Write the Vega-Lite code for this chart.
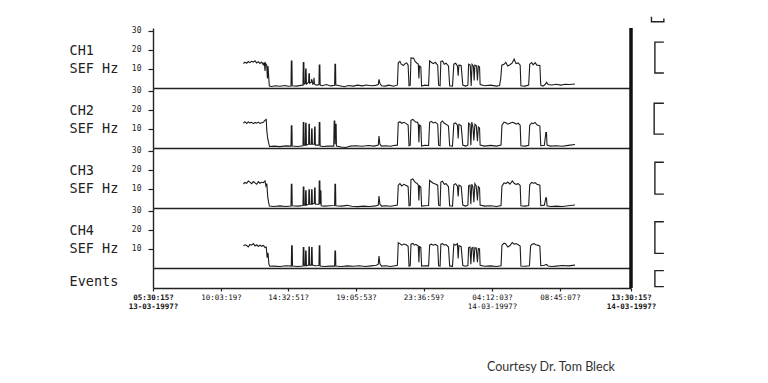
{
"$schema": "https://vega.github.io/schema/vega-lite/v6.json",
"background": "white",
"padding": {"left": 69, "top": 13, "right": 5, "bottom": 5},
"spacing": 0,
"bounds": "flush",
"title": {"text": "Courtesy Dr. Tom Bleck", "orient": "bottom", "anchor": "start", "frame": "bounds", "dx": 418, "offset": 51, "font": "Lato", "fontSize": 12.5, "fontWeight": "normal", "color": "#333"},
"config": {
  "view": {"stroke": null},
  "axis": {"grid": false, "domainColor": "#222", "tickColor": "#222", "labelColor": "#222", "titleColor": "#222", "labelFont": "DejaVu Sans Mono", "titleFont": "DejaVu Sans Mono", "domainWidth": 1.4, "tickWidth": 1.2},
  "axisY": {"tickSize": 5, "labelFontSize": 8, "labelPadding": 7, "labelOverlap": false, "labelBound": false, "titleAngle": 0, "titleAlign": "left", "titleBaseline": "alphabetic", "titleX": -84, "titleY": 26, "titleFontSize": 13.5, "titleFontWeight": "normal", "titleLineHeight": 18}
},
"datasets": {
"ch1": [
{"h":6.05,"v":12.8},{"h":6.15,"v":13.6},{"h":6.27,"v":13.0},{"h":6.38,"v":13.9},{"h":6.49,"v":13.3},{"h":6.6,"v":14.0},{"h":6.72,"v":13.6},{"h":6.83,"v":14.3},{"h":6.94,"v":13.1},{"h":7.05,"v":13.8},{"h":7.16,"v":12.9},{"h":7.27,"v":13.6},{"h":7.39,"v":12.2},{"h":7.45,"v":13.5},{"h":7.5,"v":9.0},{"h":7.53,"v":13.0},{"h":7.61,"v":12.0},{"h":7.66,"v":5.0},{"h":7.7,"v":11.5},{"h":7.76,"v":4.0},{"h":7.79,"v":1.0},{"h":7.94,"v":0.8},{"h":8.2,"v":1.2},{"h":8.5,"v":0.9},{"h":8.83,"v":1.3},{"h":9.05,"v":0.9},{"h":9.24,"v":1.0},{"h":9.26,"v":14.2},{"h":9.3,"v":14.2},{"h":9.32,"v":1.2},{"h":9.6,"v":1.0},{"h":9.9,"v":1.4},{"h":10.04,"v":1.5},{"h":10.06,"v":13.4},{"h":10.1,"v":13.4},{"h":10.12,"v":2.0},{"h":10.2,"v":2.5},{"h":10.22,"v":10.0},{"h":10.25,"v":10.0},{"h":10.27,"v":2.0},{"h":10.42,"v":3.0},{"h":10.44,"v":7.4},{"h":10.47,"v":7.4},{"h":10.49,"v":2.5},{"h":10.6,"v":3.0},{"h":10.62,"v":4.6},{"h":10.65,"v":4.0},{"h":10.7,"v":2.0},{"h":10.76,"v":2.5},{"h":10.78,"v":5.4},{"h":10.81,"v":2.0},{"h":10.95,"v":1.5},{"h":11.11,"v":1.8},{"h":11.13,"v":12.0},{"h":11.17,"v":12.0},{"h":11.19,"v":1.5},{"h":11.33,"v":1.2},{"h":11.6,"v":1.8},{"h":11.9,"v":1.1},{"h":12.16,"v":1.4},{"h":12.18,"v":12.4},{"h":12.22,"v":12.4},{"h":12.24,"v":1.5},{"h":12.5,"v":1.2},{"h":12.8,"v":0.7},{"h":13.1,"v":1.3},{"h":13.4,"v":1.0},{"h":13.7,"v":1.5},{"h":14.0,"v":1.1},{"h":14.3,"v":1.6},{"h":14.6,"v":1.2},{"h":14.9,"v":1.4},{"h":15.08,"v":1.8},{"h":15.13,"v":4.5},{"h":15.19,"v":2.5},{"h":15.3,"v":1.2},{"h":15.53,"v":1.0},{"h":15.8,"v":1.5},{"h":16.1,"v":0.9},{"h":16.36,"v":1.6},{"h":16.42,"v":13.2},{"h":16.53,"v":14.0},{"h":16.62,"v":12.5},{"h":16.76,"v":11.8},{"h":16.88,"v":12.8},{"h":16.98,"v":13.2},{"h":17.08,"v":12.0},{"h":17.14,"v":1.2},{"h":17.22,"v":1.5},{"h":17.27,"v":15.8},{"h":17.45,"v":15.6},{"h":17.56,"v":13.8},{"h":17.68,"v":13.0},{"h":17.76,"v":12.5},{"h":17.8,"v":5.0},{"h":17.84,"v":11.5},{"h":17.93,"v":11.0},{"h":17.98,"v":1.0},{"h":18.2,"v":1.5},{"h":18.45,"v":1.3},{"h":18.52,"v":14.2},{"h":18.63,"v":13.5},{"h":18.76,"v":12.8},{"h":18.9,"v":13.5},{"h":19.06,"v":12.0},{"h":19.12,"v":1.5},{"h":19.22,"v":1.2},{"h":19.27,"v":14.0},{"h":19.38,"v":14.2},{"h":19.5,"v":12.5},{"h":19.62,"v":13.0},{"h":19.78,"v":11.6},{"h":19.86,"v":1.2},{"h":20.05,"v":1.0},{"h":20.14,"v":12.5},{"h":20.26,"v":13.0},{"h":20.38,"v":11.6},{"h":20.43,"v":6.5},{"h":20.48,"v":12.0},{"h":20.63,"v":11.8},{"h":20.74,"v":1.5},{"h":20.93,"v":1.0},{"h":21.08,"v":1.5},{"h":21.13,"v":12.5},{"h":21.24,"v":12.0},{"h":21.3,"v":1.0},{"h":21.36,"v":12.4},{"h":21.45,"v":11.5},{"h":21.5,"v":4.0},{"h":21.55,"v":12.0},{"h":21.66,"v":11.6},{"h":21.72,"v":4.0},{"h":21.78,"v":11.6},{"h":21.86,"v":11.0},{"h":21.9,"v":1.8},{"h":22.2,"v":1.2},{"h":22.6,"v":1.5},{"h":23.0,"v":1.0},{"h":23.2,"v":1.3},{"h":23.28,"v":5.0},{"h":23.35,"v":12.0},{"h":23.5,"v":12.4},{"h":23.62,"v":13.4},{"h":23.75,"v":11.6},{"h":23.9,"v":12.2},{"h":24.05,"v":13.2},{"h":24.18,"v":15.2},{"h":24.3,"v":12.8},{"h":24.45,"v":13.2},{"h":24.58,"v":12.0},{"h":24.63,"v":1.2},{"h":24.9,"v":1.0},{"h":25.15,"v":1.5},{"h":25.22,"v":12.5},{"h":25.35,"v":13.4},{"h":25.45,"v":12.2},{"h":25.58,"v":13.3},{"h":25.7,"v":12.0},{"h":25.9,"v":11.8},{"h":25.96,"v":1.5},{"h":26.1,"v":1.0},{"h":26.25,"v":1.8},{"h":26.35,"v":3.0},{"h":26.45,"v":1.8},{"h":26.7,"v":1.6},{"h":27.0,"v":2.0},{"h":27.3,"v":1.5},{"h":27.6,"v":2.0},{"h":27.9,"v":1.8},{"h":28.25,"v":2.1}
],
"ch2": [
{"h":6.05,"v":13.0},{"h":6.15,"v":13.8},{"h":6.27,"v":12.9},{"h":6.38,"v":13.7},{"h":6.49,"v":13.2},{"h":6.6,"v":13.5},{"h":6.72,"v":12.8},{"h":6.83,"v":13.4},{"h":6.94,"v":13.0},{"h":7.05,"v":13.6},{"h":7.16,"v":12.9},{"h":7.27,"v":13.3},{"h":7.39,"v":13.5},{"h":7.5,"v":14.6},{"h":7.58,"v":15.0},{"h":7.62,"v":9.0},{"h":7.68,"v":5.0},{"h":7.76,"v":2.0},{"h":7.8,"v":0.8},{"h":8.1,"v":1.0},{"h":8.5,"v":0.7},{"h":8.9,"v":1.1},{"h":9.24,"v":1.0},{"h":9.26,"v":11.6},{"h":9.3,"v":11.6},{"h":9.32,"v":1.0},{"h":9.7,"v":0.8},{"h":10.04,"v":1.2},{"h":10.06,"v":13.4},{"h":10.1,"v":13.4},{"h":10.12,"v":1.5},{"h":10.2,"v":1.5},{"h":10.22,"v":13.0},{"h":10.25,"v":13.0},{"h":10.27,"v":1.5},{"h":10.42,"v":2.0},{"h":10.44,"v":12.5},{"h":10.47,"v":12.5},{"h":10.49,"v":2.0},{"h":10.6,"v":2.0},{"h":10.62,"v":10.0},{"h":10.65,"v":10.0},{"h":10.67,"v":2.0},{"h":10.8,"v":2.0},{"h":10.82,"v":11.0},{"h":10.85,"v":11.0},{"h":10.87,"v":1.5},{"h":11.11,"v":1.5},{"h":11.13,"v":13.3},{"h":11.17,"v":13.3},{"h":11.19,"v":1.0},{"h":11.4,"v":0.8},{"h":11.7,"v":1.0},{"h":12.1,"v":1.0},{"h":12.13,"v":14.2},{"h":12.17,"v":14.2},{"h":12.19,"v":2.0},{"h":12.22,"v":12.5},{"h":12.26,"v":12.5},{"h":12.28,"v":1.0},{"h":12.6,"v":0.5},{"h":12.9,"v":0.3},{"h":13.2,"v":1.0},{"h":13.6,"v":1.2},{"h":14.0,"v":0.9},{"h":14.4,"v":1.3},{"h":14.8,"v":1.0},{"h":15.08,"v":1.5},{"h":15.13,"v":6.3},{"h":15.19,"v":2.0},{"h":15.3,"v":1.0},{"h":15.6,"v":1.2},{"h":15.9,"v":0.9},{"h":16.2,"v":1.4},{"h":16.36,"v":1.5},{"h":16.42,"v":13.3},{"h":16.53,"v":13.8},{"h":16.65,"v":13.0},{"h":16.8,"v":13.5},{"h":16.95,"v":12.8},{"h":17.08,"v":12.0},{"h":17.14,"v":1.2},{"h":17.22,"v":1.5},{"h":17.27,"v":14.5},{"h":17.4,"v":15.0},{"h":17.5,"v":14.2},{"h":17.6,"v":13.5},{"h":17.7,"v":13.6},{"h":17.76,"v":12.5},{"h":17.8,"v":3.0},{"h":17.84,"v":12.0},{"h":17.93,"v":11.5},{"h":17.98,"v":1.0},{"h":18.2,"v":1.4},{"h":18.45,"v":1.3},{"h":18.52,"v":13.5},{"h":18.63,"v":14.0},{"h":18.76,"v":13.2},{"h":18.9,"v":13.5},{"h":19.06,"v":12.5},{"h":19.12,"v":1.5},{"h":19.22,"v":1.2},{"h":19.27,"v":13.4},{"h":19.38,"v":14.2},{"h":19.5,"v":13.0},{"h":19.62,"v":12.5},{"h":19.78,"v":11.5},{"h":19.86,"v":1.2},{"h":20.05,"v":1.0},{"h":20.14,"v":12.8},{"h":20.26,"v":13.2},{"h":20.38,"v":12.0},{"h":20.43,"v":5.0},{"h":20.48,"v":12.4},{"h":20.63,"v":11.8},{"h":20.74,"v":1.5},{"h":20.93,"v":1.0},{"h":21.08,"v":1.5},{"h":21.13,"v":13.0},{"h":21.22,"v":12.4},{"h":21.28,"v":1.5},{"h":21.34,"v":13.6},{"h":21.42,"v":11.0},{"h":21.48,"v":4.0},{"h":21.55,"v":12.5},{"h":21.64,"v":11.8},{"h":21.72,"v":3.5},{"h":21.78,"v":11.0},{"h":21.86,"v":10.5},{"h":21.9,"v":1.6},{"h":22.2,"v":1.0},{"h":22.6,"v":1.4},{"h":23.0,"v":1.0},{"h":23.3,"v":1.5},{"h":23.36,"v":12.0},{"h":23.5,"v":13.6},{"h":23.62,"v":13.2},{"h":23.75,"v":12.5},{"h":23.9,"v":13.0},{"h":24.05,"v":13.5},{"h":24.18,"v":13.2},{"h":24.3,"v":12.5},{"h":24.45,"v":13.0},{"h":24.58,"v":12.0},{"h":24.63,"v":1.2},{"h":24.9,"v":1.0},{"h":25.15,"v":1.4},{"h":25.22,"v":12.0},{"h":25.35,"v":13.2},{"h":25.45,"v":12.8},{"h":25.58,"v":13.4},{"h":25.7,"v":12.2},{"h":25.9,"v":11.5},{"h":25.96,"v":1.2},{"h":26.2,"v":1.4},{"h":26.3,"v":8.1},{"h":26.34,"v":8.1},{"h":26.38,"v":1.5},{"h":26.6,"v":1.0},{"h":27.0,"v":1.2},{"h":27.4,"v":0.9},{"h":27.8,"v":1.4},{"h":28.25,"v":1.8}
],
"ch3": [
{"h":6.05,"v":12.5},{"h":6.15,"v":13.4},{"h":6.27,"v":13.0},{"h":6.38,"v":14.2},{"h":6.49,"v":13.6},{"h":6.6,"v":12.8},{"h":6.72,"v":13.9},{"h":6.83,"v":13.2},{"h":6.94,"v":12.5},{"h":7.05,"v":13.8},{"h":7.16,"v":13.0},{"h":7.27,"v":13.5},{"h":7.39,"v":13.3},{"h":7.5,"v":14.2},{"h":7.56,"v":11.6},{"h":7.62,"v":12.8},{"h":7.68,"v":6.0},{"h":7.74,"v":3.0},{"h":7.79,"v":1.0},{"h":8.1,"v":0.8},{"h":8.5,"v":1.1},{"h":8.9,"v":0.8},{"h":9.24,"v":1.0},{"h":9.26,"v":12.5},{"h":9.3,"v":12.5},{"h":9.32,"v":1.2},{"h":9.7,"v":1.0},{"h":10.04,"v":1.3},{"h":10.06,"v":11.0},{"h":10.1,"v":11.0},{"h":10.12,"v":1.5},{"h":10.2,"v":1.5},{"h":10.22,"v":9.0},{"h":10.25,"v":9.0},{"h":10.27,"v":1.5},{"h":10.42,"v":2.0},{"h":10.44,"v":9.5},{"h":10.47,"v":9.5},{"h":10.49,"v":2.0},{"h":10.6,"v":2.0},{"h":10.62,"v":9.5},{"h":10.65,"v":9.5},{"h":10.67,"v":2.0},{"h":10.8,"v":2.5},{"h":10.82,"v":10.5},{"h":10.85,"v":10.5},{"h":10.87,"v":2.0},{"h":11.11,"v":2.0},{"h":11.13,"v":14.2},{"h":11.17,"v":14.2},{"h":11.19,"v":2.0},{"h":11.21,"v":9.0},{"h":11.24,"v":9.0},{"h":11.26,"v":1.2},{"h":11.5,"v":1.0},{"h":11.8,"v":1.2},{"h":12.16,"v":1.3},{"h":12.18,"v":12.5},{"h":12.22,"v":12.5},{"h":12.24,"v":1.2},{"h":12.6,"v":1.0},{"h":13.0,"v":1.4},{"h":13.3,"v":0.9},{"h":13.7,"v":0.7},{"h":14.1,"v":1.0},{"h":14.5,"v":0.8},{"h":14.9,"v":1.1},{"h":15.08,"v":1.5},{"h":15.13,"v":6.3},{"h":15.19,"v":2.0},{"h":15.3,"v":1.0},{"h":15.6,"v":1.2},{"h":15.9,"v":0.9},{"h":16.2,"v":1.3},{"h":16.36,"v":1.5},{"h":16.42,"v":12.0},{"h":16.53,"v":12.8},{"h":16.65,"v":11.6},{"h":16.8,"v":12.4},{"h":16.95,"v":11.8},{"h":17.08,"v":11.2},{"h":17.14,"v":1.2},{"h":17.22,"v":1.4},{"h":17.27,"v":14.8},{"h":17.4,"v":15.2},{"h":17.5,"v":14.0},{"h":17.6,"v":13.2},{"h":17.7,"v":12.8},{"h":17.76,"v":12.0},{"h":17.8,"v":4.0},{"h":17.84,"v":11.6},{"h":17.93,"v":11.0},{"h":17.98,"v":1.0},{"h":18.2,"v":1.2},{"h":18.45,"v":1.3},{"h":18.52,"v":14.5},{"h":18.63,"v":13.8},{"h":18.76,"v":13.0},{"h":18.9,"v":12.6},{"h":19.06,"v":12.0},{"h":19.12,"v":1.5},{"h":19.22,"v":1.2},{"h":19.27,"v":13.6},{"h":19.38,"v":14.0},{"h":19.5,"v":12.4},{"h":19.62,"v":12.8},{"h":19.78,"v":11.2},{"h":19.86,"v":1.2},{"h":20.05,"v":1.0},{"h":20.14,"v":12.2},{"h":20.26,"v":12.8},{"h":20.38,"v":11.5},{"h":20.43,"v":6.0},{"h":20.48,"v":12.0},{"h":20.63,"v":11.4},{"h":20.74,"v":1.5},{"h":20.93,"v":1.0},{"h":21.08,"v":1.5},{"h":21.13,"v":11.6},{"h":21.22,"v":12.0},{"h":21.28,"v":2.0},{"h":21.34,"v":12.5},{"h":21.42,"v":11.0},{"h":21.48,"v":3.0},{"h":21.55,"v":12.8},{"h":21.64,"v":11.5},{"h":21.72,"v":4.0},{"h":21.78,"v":11.2},{"h":21.86,"v":10.5},{"h":21.9,"v":1.6},{"h":22.2,"v":1.0},{"h":22.6,"v":1.2},{"h":23.0,"v":0.8},{"h":23.3,"v":1.3},{"h":23.36,"v":11.5},{"h":23.5,"v":13.2},{"h":23.62,"v":12.8},{"h":23.75,"v":13.6},{"h":23.9,"v":12.5},{"h":24.05,"v":14.2},{"h":24.18,"v":13.0},{"h":24.3,"v":12.4},{"h":24.45,"v":12.8},{"h":24.58,"v":11.8},{"h":24.63,"v":1.2},{"h":24.9,"v":1.0},{"h":25.15,"v":1.3},{"h":25.22,"v":12.2},{"h":25.35,"v":13.4},{"h":25.45,"v":13.0},{"h":25.58,"v":13.3},{"h":25.7,"v":12.5},{"h":25.9,"v":12.0},{"h":25.96,"v":1.2},{"h":26.2,"v":1.5},{"h":26.3,"v":5.4},{"h":26.34,"v":5.4},{"h":26.38,"v":1.2},{"h":26.6,"v":0.8},{"h":27.0,"v":1.0},{"h":27.4,"v":0.8},{"h":27.8,"v":1.2},{"h":28.25,"v":1.6}
],
"ch4": [
{"h":6.05,"v":11.6},{"h":6.15,"v":12.2},{"h":6.27,"v":11.8},{"h":6.38,"v":11.1},{"h":6.49,"v":12.4},{"h":6.6,"v":12.0},{"h":6.72,"v":12.8},{"h":6.83,"v":11.6},{"h":6.94,"v":12.2},{"h":7.05,"v":11.3},{"h":7.16,"v":12.0},{"h":7.27,"v":11.4},{"h":7.39,"v":11.8},{"h":7.5,"v":10.7},{"h":7.58,"v":11.0},{"h":7.64,"v":5.4},{"h":7.7,"v":8.0},{"h":7.76,"v":2.0},{"h":7.82,"v":0.9},{"h":8.1,"v":1.0},{"h":8.5,"v":0.8},{"h":8.9,"v":1.2},{"h":9.26,"v":1.0},{"h":9.28,"v":11.6},{"h":9.32,"v":11.6},{"h":9.34,"v":1.0},{"h":9.7,"v":0.8},{"h":10.04,"v":1.0},{"h":10.06,"v":10.7},{"h":10.1,"v":10.7},{"h":10.12,"v":1.2},{"h":10.2,"v":1.2},{"h":10.22,"v":8.9},{"h":10.25,"v":8.9},{"h":10.27,"v":1.2},{"h":10.42,"v":1.5},{"h":10.44,"v":11.0},{"h":10.47,"v":11.0},{"h":10.49,"v":1.5},{"h":10.6,"v":1.5},{"h":10.62,"v":10.7},{"h":10.65,"v":10.7},{"h":10.67,"v":1.5},{"h":10.85,"v":1.2},{"h":11.11,"v":1.3},{"h":11.13,"v":11.6},{"h":11.17,"v":11.6},{"h":11.19,"v":1.0},{"h":11.5,"v":0.8},{"h":11.8,"v":1.0},{"h":12.16,"v":1.0},{"h":12.18,"v":8.9},{"h":12.22,"v":8.9},{"h":12.24,"v":1.0},{"h":12.6,"v":0.8},{"h":13.0,"v":1.1},{"h":13.4,"v":0.9},{"h":13.8,"v":1.2},{"h":14.2,"v":0.8},{"h":14.6,"v":1.1},{"h":14.95,"v":1.4},{"h":15.08,"v":2.0},{"h":15.13,"v":6.3},{"h":15.19,"v":2.2},{"h":15.3,"v":1.0},{"h":15.6,"v":1.2},{"h":15.9,"v":0.8},{"h":16.2,"v":1.2},{"h":16.36,"v":1.4},{"h":16.42,"v":13.3},{"h":16.53,"v":12.8},{"h":16.65,"v":12.0},{"h":16.8,"v":12.6},{"h":16.95,"v":12.2},{"h":17.08,"v":11.4},{"h":17.14,"v":1.0},{"h":17.22,"v":1.3},{"h":17.27,"v":12.5},{"h":17.4,"v":12.9},{"h":17.5,"v":12.0},{"h":17.6,"v":12.4},{"h":17.7,"v":11.8},{"h":17.76,"v":11.5},{"h":17.8,"v":3.0},{"h":17.84,"v":11.2},{"h":17.93,"v":10.8},{"h":17.98,"v":1.0},{"h":18.2,"v":1.2},{"h":18.45,"v":1.1},{"h":18.52,"v":12.0},{"h":18.63,"v":12.5},{"h":18.76,"v":12.0},{"h":18.9,"v":12.4},{"h":19.06,"v":11.6},{"h":19.12,"v":1.2},{"h":19.22,"v":1.0},{"h":19.27,"v":12.5},{"h":19.38,"v":12.8},{"h":19.5,"v":12.0},{"h":19.62,"v":12.3},{"h":19.78,"v":11.0},{"h":19.86,"v":1.1},{"h":20.05,"v":0.9},{"h":20.14,"v":12.5},{"h":20.26,"v":12.0},{"h":20.38,"v":12.8},{"h":20.43,"v":5.0},{"h":20.48,"v":11.8},{"h":20.63,"v":11.2},{"h":20.74,"v":1.3},{"h":20.93,"v":0.9},{"h":21.08,"v":1.3},{"h":21.13,"v":10.7},{"h":21.22,"v":11.0},{"h":21.28,"v":2.0},{"h":21.34,"v":10.5},{"h":21.42,"v":10.8},{"h":21.48,"v":3.0},{"h":21.55,"v":10.7},{"h":21.64,"v":10.5},{"h":21.72,"v":3.0},{"h":21.78,"v":10.2},{"h":21.86,"v":10.0},{"h":21.9,"v":1.4},{"h":22.2,"v":0.9},{"h":22.6,"v":1.1},{"h":23.0,"v":0.8},{"h":23.3,"v":1.2},{"h":23.36,"v":12.0},{"h":23.5,"v":13.0},{"h":23.62,"v":12.6},{"h":23.75,"v":11.0},{"h":23.9,"v":11.8},{"h":24.05,"v":13.4},{"h":24.18,"v":12.5},{"h":24.3,"v":12.8},{"h":24.45,"v":12.2},{"h":24.58,"v":11.5},{"h":24.63,"v":1.0},{"h":24.9,"v":0.9},{"h":25.2,"v":1.2},{"h":25.28,"v":11.6},{"h":25.38,"v":12.5},{"h":25.5,"v":12.8},{"h":25.62,"v":12.2},{"h":25.75,"v":12.0},{"h":25.9,"v":11.5},{"h":25.96,"v":1.2},{"h":26.2,"v":1.4},{"h":26.35,"v":1.9},{"h":26.45,"v":1.0},{"h":26.7,"v":0.8},{"h":27.0,"v":1.0},{"h":27.4,"v":1.3},{"h":27.8,"v":1.1},{"h":28.25,"v":1.5}
],
"brk": [
{"p":1,"g":"a","o":1,"h":34.2,"v":24.1},{"p":1,"g":"a","o":2,"h":33.6,"v":24.1},{"p":1,"g":"a","o":3,"h":33.6,"v":7.9},{"p":1,"g":"a","o":4,"h":34.2,"v":7.9},
{"p":1,"g":"b","o":1,"h":33.37,"v":37.4},{"p":1,"g":"b","o":2,"h":33.37,"v":34.8},{"p":1,"g":"b","o":3,"h":34.2,"v":34.8},{"p":1,"g":"b","o":4,"h":34.2,"v":36.5},
{"p":2,"g":"a","o":1,"h":34.2,"v":23.5},{"p":2,"g":"a","o":2,"h":33.55,"v":23.5},{"p":2,"g":"a","o":3,"h":33.55,"v":7.3},{"p":2,"g":"a","o":4,"h":34.2,"v":7.3},
{"p":3,"g":"a","o":1,"h":34.2,"v":24.0},{"p":3,"g":"a","o":2,"h":33.6,"v":24.0},{"p":3,"g":"a","o":3,"h":33.6,"v":7.3},{"p":3,"g":"a","o":4,"h":34.2,"v":7.3},
{"p":4,"g":"a","o":1,"h":34.2,"v":24.3},{"p":4,"g":"a","o":2,"h":33.6,"v":24.3},{"p":4,"g":"a","o":3,"h":33.6,"v":7.7},{"p":4,"g":"a","o":4,"h":34.2,"v":7.7},
{"p":5,"g":"a","o":1,"h":34.2,"v":8.7},{"p":5,"g":"a","o":2,"h":33.6,"v":8.7},{"p":5,"g":"a","o":3,"h":33.6,"v":0.7},{"p":5,"g":"a","o":4,"h":34.2,"v":0.7}
]
},
"vconcat": [
{"width": 478, "height": 60, "layer": [
  {"data": {"name": "ch1"}, "mark": {"type": "line", "color": "#1c1c1c", "strokeWidth": 1.1},
   "encoding": {"x": {"field": "h", "type": "quantitative", "scale": {"domain": [0, 32], "nice": false}, "axis": {"labels": false, "ticks": false, "title": null, "domainWidth": 1.6}},
                "y": {"field": "v", "type": "quantitative", "scale": {"domain": [0, 31.5], "nice": false}, "axis": {"values": [10, 20, 30], "labelOverlap": false, "title": ["CH1", "SEF Hz"]}}}},
  {"data": {"values": [{}]}, "mark": {"type": "rule", "color": "#111", "strokeWidth": 3.5}, "encoding": {"x": {"datum": 32}}},
  {"data": {"name": "brk"}, "transform": [{"filter": "datum.p == 1"}], "mark": {"type": "line", "color": "#222", "strokeWidth": 1.4},
   "encoding": {"x": {"field": "h", "type": "quantitative"}, "y": {"field": "v", "type": "quantitative", "axis": {"values": [10, 20, 30], "labelOverlap": false, "title": ["CH1", "SEF Hz"]}}, "order": {"field": "o", "type": "quantitative"}, "detail": {"field": "g"}}}
]},
{"width": 478, "height": 60, "layer": [
  {"data": {"name": "ch2"}, "mark": {"type": "line", "color": "#1c1c1c", "strokeWidth": 1.1},
   "encoding": {"x": {"field": "h", "type": "quantitative", "scale": {"domain": [0, 32], "nice": false}, "axis": {"labels": false, "ticks": false, "title": null, "domainWidth": 1.6}},
                "y": {"field": "v", "type": "quantitative", "scale": {"domain": [0, 31.5], "nice": false}, "axis": {"values": [10, 20, 30], "labelOverlap": false, "title": ["CH2", "SEF Hz"]}}}},
  {"data": {"values": [{}]}, "mark": {"type": "rule", "color": "#111", "strokeWidth": 3.5}, "encoding": {"x": {"datum": 32}}},
  {"data": {"name": "brk"}, "transform": [{"filter": "datum.p == 2"}], "mark": {"type": "line", "color": "#222", "strokeWidth": 1.4},
   "encoding": {"x": {"field": "h", "type": "quantitative"}, "y": {"field": "v", "type": "quantitative", "axis": {"values": [10, 20, 30], "labelOverlap": false, "title": ["CH2", "SEF Hz"]}}, "order": {"field": "o", "type": "quantitative"}, "detail": {"field": "g"}}}
]},
{"width": 478, "height": 60, "layer": [
  {"data": {"name": "ch3"}, "mark": {"type": "line", "color": "#1c1c1c", "strokeWidth": 1.1},
   "encoding": {"x": {"field": "h", "type": "quantitative", "scale": {"domain": [0, 32], "nice": false}, "axis": {"labels": false, "ticks": false, "title": null, "domainWidth": 1.6}},
                "y": {"field": "v", "type": "quantitative", "scale": {"domain": [0, 31.5], "nice": false}, "axis": {"values": [10, 20, 30], "labelOverlap": false, "title": ["CH3", "SEF Hz"]}}}},
  {"data": {"values": [{}]}, "mark": {"type": "rule", "color": "#111", "strokeWidth": 3.5}, "encoding": {"x": {"datum": 32}}},
  {"data": {"name": "brk"}, "transform": [{"filter": "datum.p == 3"}], "mark": {"type": "line", "color": "#222", "strokeWidth": 1.4},
   "encoding": {"x": {"field": "h", "type": "quantitative"}, "y": {"field": "v", "type": "quantitative", "axis": {"values": [10, 20, 30], "labelOverlap": false, "title": ["CH3", "SEF Hz"]}}, "order": {"field": "o", "type": "quantitative"}, "detail": {"field": "g"}}}
]},
{"width": 478, "height": 60, "layer": [
  {"data": {"name": "ch4"}, "mark": {"type": "line", "color": "#1c1c1c", "strokeWidth": 1.1},
   "encoding": {"x": {"field": "h", "type": "quantitative", "scale": {"domain": [0, 32], "nice": false}, "axis": {"labels": false, "ticks": false, "title": null, "domainWidth": 1.6}},
                "y": {"field": "v", "type": "quantitative", "scale": {"domain": [0, 31.5], "nice": false}, "axis": {"values": [10, 20, 30], "labelOverlap": false, "title": ["CH4", "SEF Hz"]}}}},
  {"data": {"values": [{}]}, "mark": {"type": "rule", "color": "#111", "strokeWidth": 3.5}, "encoding": {"x": {"datum": 32}}},
  {"data": {"name": "brk"}, "transform": [{"filter": "datum.p == 4"}], "mark": {"type": "line", "color": "#222", "strokeWidth": 1.4},
   "encoding": {"x": {"field": "h", "type": "quantitative"}, "y": {"field": "v", "type": "quantitative", "axis": {"values": [10, 20, 30], "labelOverlap": false, "title": ["CH4", "SEF Hz"]}}, "order": {"field": "o", "type": "quantitative"}, "detail": {"field": "g"}}}
]},
{"width": 478, "height": 20, "layer": [
  {"data": {"name": "brk"}, "transform": [{"filter": "datum.p == 5"}], "mark": {"type": "line", "color": "#222", "strokeWidth": 1.4},
   "encoding": {
     "x": {"field": "h", "type": "quantitative", "scale": {"domain": [0, 32], "nice": false},
           "axis": {"title": null, "values": [0, 4.551, 9.043, 13.593, 18.112, 22.696, 27.247, 32], "domainWidth": 1.6, "tickSize": 3, "labelPadding": 2, "labelFontSize": 7.5, "labelLineHeight": 9.5, "labelOverlap": false, "labelFlush": false, "labelBound": false, "labelColor": "#111",
                    "labelFontWeight": {"condition": {"test": "datum.value < 1 || datum.value > 31", "value": "bold"}, "value": "normal"},
                    "labelExpr": "datum.value < 1 ? ['05:30:15?', '13-03-1997?'] : datum.value < 5 ? '10:03:19?' : datum.value < 10 ? '14:32:51?' : datum.value < 14 ? '19:05:53?' : datum.value < 19 ? '23:36:59?' : datum.value < 23 ? ['04:12:03?', '14-03-1997?'] : datum.value < 28 ? '08:45:07?' : ['13:30:15?', '14-03-1997?']"}},
     "y": {"field": "v", "type": "quantitative", "scale": {"domain": [0, 10], "nice": false}, "axis": {"title": "Events", "ticks": false, "labels": false, "titleY": 17}},
     "order": {"field": "o", "type": "quantitative"}}},
  {"data": {"values": [{}]}, "mark": {"type": "rule", "color": "#111", "strokeWidth": 3.5}, "encoding": {"x": {"datum": 32}}}
]}
]
}
